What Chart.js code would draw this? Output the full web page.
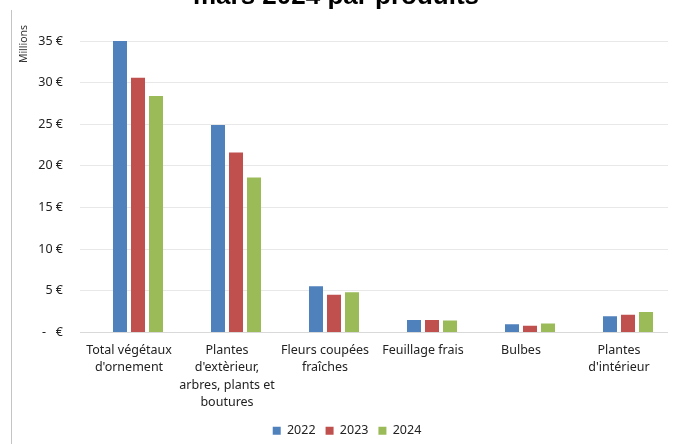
<!DOCTYPE html>
<html>
<head>
<meta charset="utf-8">
<script src="https://cdn.jsdelivr.net/npm/chart.js@4"></script>
<style>
  html, body { margin: 0; padding: 0; background: #fff; overflow: hidden; }
  #wrap { width: 673px; height: 444px; position: relative; }
</style>
</head>
<body>
<div id="wrap"><canvas id="bar-chart"></canvas></div>
<script>
// categories (multi-line labels)
const categories = [
    ["Total végétaux", "d'ornement"],
    ["Plantes", "d'extèrieur,", "arbres, plants et", "boutures"],
    ["Fleurs coupées", "fraîches"],
    ["Feuillage frais"],
    ["Bulbes"],
    ["Plantes", "d'intérieur"],
];
const years = ["2022", "2023", "2024"];
// values in millions of euros
const values2022 = [35.0, 24.9, 5.56, 1.51, 0.99, 1.94];
const values2023 = [30.6, 21.6, 4.52, 1.51, 0.80, 2.14];
const values2024 = [28.4, 18.6, 4.84, 1.43, 1.07, 2.46];
const yTicks = [0, 5, 10, 15, 20, 25, 30, 35];

const font = "'Noto Sans', sans-serif";

// title (cut at top), vertical axis unit and left border of the frame
const extras = {
    id: "extras",
    afterDraw(chart) {
        const ctx = chart.ctx;
        ctx.save();
        ctx.fillStyle = "#000";
        ctx.font = "bold 26px 'Liberation Sans', Arial, sans-serif";
        ctx.textAlign = "center";
        ctx.textBaseline = "alphabetic";
        ctx.fillText("mars 2024 par produits", 336, 4);

        ctx.translate(24, 44);
        ctx.rotate(-Math.PI / 2);
        ctx.font = "10.5px " + font;
        ctx.fillStyle = "#333";
        ctx.textBaseline = "middle";
        ctx.fillText("Millions", 0, 0);
        ctx.restore();

        ctx.save();
        ctx.strokeStyle = "#c4c4c4";
        ctx.lineWidth = 1;
        ctx.beginPath();
        ctx.moveTo(11.5, 10);
        ctx.lineTo(11.5, 444);
        ctx.stroke();
        ctx.restore();
    },
};

new Chart(document.getElementById("bar-chart"), {
    type: "bar",
    data: {
        labels: categories,
        datasets: [
            // empty spacer: the bar groups sit a little right of the labels
            { label: "", data: [], backgroundColor: "transparent" },
            { label: years[0], data: values2022, backgroundColor: "#4f81bd" },
            { label: years[1], data: values2023, backgroundColor: "#c0504d" },
            { label: years[2], data: values2024, backgroundColor: "#9bbb59" },
        ],
    },
    options: {
        responsive: true,
        maintainAspectRatio: false,
        animation: false,
        categoryPercentage: 0.735,
        barPercentage: 0.778,
        layout: { padding: { top: 41, left: 26, right: 5, bottom: -3 } },
        plugins: {
            legend: {
                position: "bottom",
                labels: {
                    boxWidth: 8,
                    boxHeight: 8,
                    padding: 10,
                    color: "#222",
                    font: { family: font, size: 12.5 },
                    filter: (item) => item.text !== "",
                },
            },
            tooltip: { enabled: false },
        },
        scales: {
            x: {
                grid: { display: false, drawTicks: false },
                border: { display: false },
                ticks: {
                    color: "#222",
                    padding: 9,
                    maxRotation: 0,
                    autoSkip: false,
                    font: { family: font, size: 12.5, lineHeight: 1.4 },
                },
                afterFit: (s) => { s.height = 82; },
            },
            y: {
                min: 0,
                max: 35,
                afterBuildTicks: (s) => { s.ticks = yTicks.map((v) => ({ value: v })); },
                afterFit: (s) => { s.width = 54; },
                grid: {
                    color: (c) => (c.tick && c.tick.value === 0 ? "#d9d9d9" : "#e8e8e8"),
                    drawTicks: false,
                },
                border: { display: false },
                ticks: {
                    color: "#222",
                    padding: 17,
                    font: { family: font, size: 12.5 },
                    callback: (v) => (v === 0 ? "-\u00a0\u00a0\u00a0€" : v + " €"),
                },
            },
        },
    },
    plugins: [extras],
});
</script>
</body>
</html>
